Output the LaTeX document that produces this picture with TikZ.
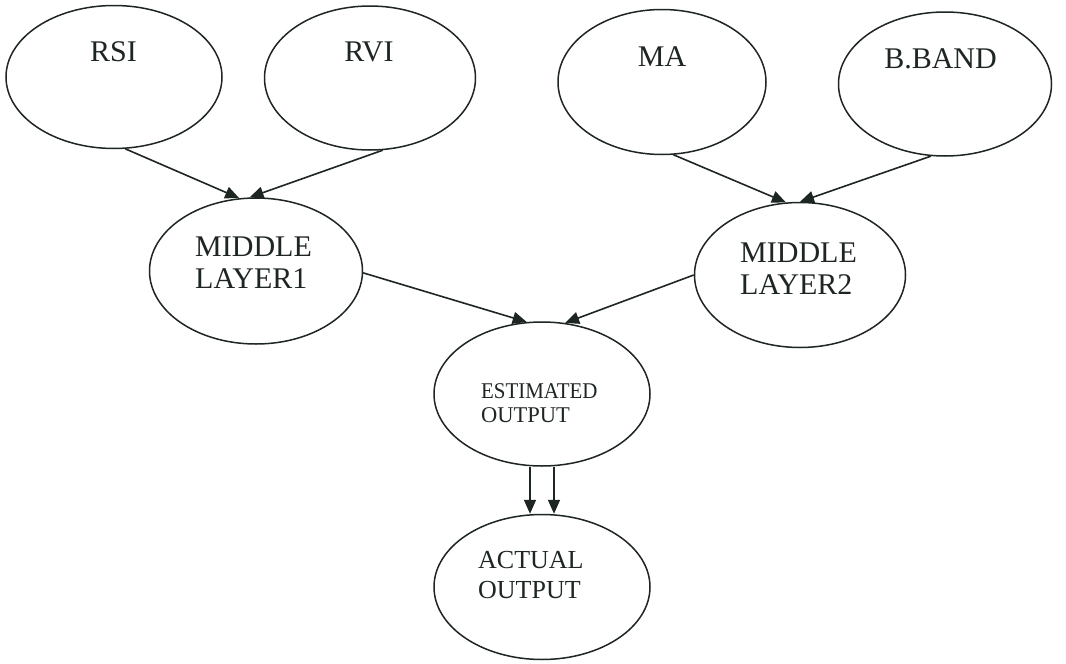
\documentclass[tikz,border=0pt]{standalone}
\usepackage{fontspec}
\setmainfont{Liberation Serif}
\usetikzlibrary{shapes.geometric,arrows.meta}
\definecolor{ink}{HTML}{1E2622}
\begin{document}
\begin{tikzpicture}[x=1pt,y=-1pt,
  oval/.style={draw=ink, line width=1.5pt, ellipse, inner sep=0pt, minimum width=212pt, minimum height=144pt},
  lbl/.style={text=ink, align=left, inner sep=0pt},
  big/.style={font=\fontsize{30}{32}\selectfont},
  conn/.style={draw=ink, line width=1.6pt, -{Triangle[length=14pt,width=12pt]}}]
\useasboundingbox (0,0) rectangle (1066,664);
\fill[white] (0,0) rectangle (1066,664);
% ovals
\node[oval, minimum width=216pt, minimum height=143pt] (rsi) at (114,77) {};
\node[oval, minimum width=211pt] (rvi) at (370,78) {};
\node[oval, minimum width=208pt, minimum height=145pt] (ma) at (662,82) {};
\node[oval, minimum width=213pt] (bb) at (945,84) {};
\node[oval, minimum width=213pt, minimum height=146pt] (ml1) at (256,271) {};
\node[oval, minimum width=211pt, minimum height=145pt] (ml2) at (800,275) {};
\node[oval, minimum width=216pt, minimum height=144pt] (est) at (542,394) {};
\node[oval, minimum width=216pt, minimum height=145pt] (act) at (542,587) {};
% labels
\node[lbl, big] (rsit) at (113.5,51.5) {RSI};
\node[lbl, big] (rvit) at (369,52) {RVI};
\node[lbl, big] (mat) at (662,56.5) {MA};
\node[lbl, big] (bbt) at (940.5,58.5) {B.BAND};
\node[lbl, big, anchor=west] (ml1t) at (195,263) {MIDDLE\\LAYER1};
\node[lbl, big, anchor=west] (ml2t) at (740,269) {MIDDLE\\LAYER2};
\node[lbl, font=\fontsize{22.5}{24.5}\selectfont, anchor=west] (estt) at (481,403) {\scalebox{0.93}[1]{ESTIMATED}\\OUTPUT};
\node[lbl, font=\fontsize{26}{30}\selectfont, anchor=west] (actt) at (478,575) {ACTUAL\\OUTPUT};
% connectors
\draw[conn] (rsi.-81) -- (ml1.103);
\draw[conn] (rvi.-80) -- (ml1.95);
\draw[conn] (ma.-81) -- (ml2.101);
\draw[conn] (bb.-101) -- (ml2.90);
\draw[conn] (ml1.-1) -- (est.102);
\draw[conn] (ml2.180) -- (est.72);
\draw[conn] ([xshift=-12pt]est.south) -- ([xshift=-12pt]act.north);
\draw[conn] ([xshift=12pt]est.south) -- ([xshift=12pt]act.north);
\end{tikzpicture}
\end{document}
